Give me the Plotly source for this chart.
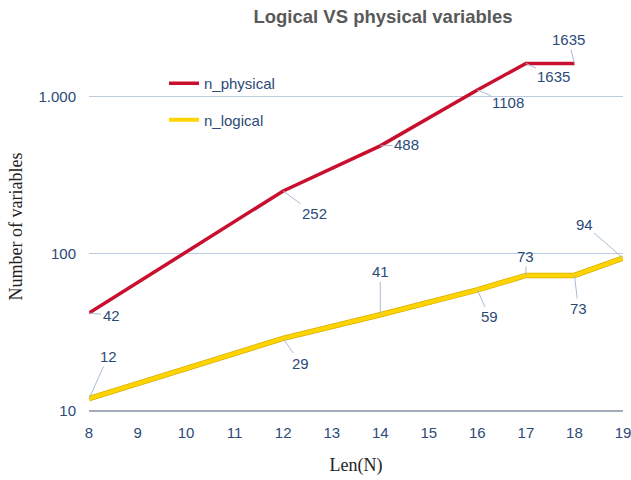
import math
import plotly.graph_objects as go

# ---- data ----
len_physical = [8, 12, 14, 16, 17, 18]
n_physical = [42, 252, 488, 1108, 1635, 1635]
len_logical = [8, 12, 14, 16, 17, 18, 19]
n_logical = [12, 29, 41, 59, 73, 73, 94]
x_ticks = list(range(8, 20))
y_ticks = [10, 100, 1000]
y_tick_text = ["10", "100", "1.000"]

# label offsets (pixels) for callouts
phys_offsets = [(22, 2), (31, 23), (26, -1), (31, 13), (28, 13), (-6, -24)]
log_offsets = [(19, -42), (17, 25), (0, -43), (12, 27), (0, -19), (4, 33), (-39, -34)]

RED = "#C8102E"
YELLOW = "#FFD400"
YELLOW_EDGE = "#D6AE00"
LABEL = "#2B4A78"
LEADER = "#A9BCD3"
SANS = "Liberation Sans, Arial"

fig = go.Figure()
fig.add_trace(go.Scatter(x=len_physical, y=n_physical, mode="lines", name="n_physical",
                         line=dict(color=RED, width=3.5), legendgroup="a"))
fig.add_trace(go.Scatter(x=len_logical, y=n_logical, mode="lines", showlegend=False,
                         line=dict(color=YELLOW_EDGE, width=5.5), hoverinfo="skip", legendgroup="b"))
fig.add_trace(go.Scatter(x=len_logical, y=n_logical, mode="lines", name="n_logical",
                         line=dict(color=YELLOW, width=4), legendgroup="b"))

for xs, ys, offs in [(len_physical, n_physical, phys_offsets), (len_logical, n_logical, log_offsets)]:
    for xv, yv, (ax, ay) in zip(xs, ys, offs):
        fig.add_annotation(x=xv, y=math.log10(yv), text=str(yv), showarrow=True, arrowhead=0,
                           arrowwidth=1, arrowcolor=LEADER, ax=ax, ay=ay, standoff=0,
                           font=dict(family=SANS, size=15, color=LABEL))

fig.update_layout(
    width=631, height=480,
    margin=dict(l=89, r=8, t=42, b=69),
    paper_bgcolor="white", plot_bgcolor="white",
    title=dict(text="<b>Logical VS physical variables</b>", x=383 / 631, xanchor="center",
               y=1 - 17 / 480, yanchor="middle", automargin=False,
               font=dict(family=SANS, size=18.5, color="#595959")),
    xaxis=dict(range=[8, 19], tickvals=x_ticks, showgrid=False, zeroline=False,
               showline=False, ticks="outside", ticklen=8, tickcolor="rgba(0,0,0,0)",
               automargin=False, ticklabeloverflow="allow",
               tickfont=dict(family=SANS, size=15, color=LABEL),
               title=dict(text="Len(N)", standoff=18,
                          font=dict(family="Liberation Serif, serif", size=18, color="#222222"))),
    yaxis=dict(type="log", range=[1, 3.35], tickvals=y_ticks, ticktext=y_tick_text,
               showgrid=True, gridcolor="#BCCCDF", gridwidth=1, zeroline=False,
               ticks="outside", ticklen=9, tickcolor="rgba(0,0,0,0)",
               showline=False, automargin=False,
               tickfont=dict(family=SANS, size=15, color=LABEL),
               title=dict(text="Number of variables", standoff=11,
                          font=dict(family="Liberation Serif, serif", size=18, color="#222222"))),
    legend=dict(x=(164 - 89) / 534, y=(411 - 67) / 369, xanchor="left", yanchor="top",
                bgcolor="rgba(0,0,0,0)", tracegroupgap=14,
                font=dict(family=SANS, size=15, color=LABEL)),
    showlegend=True,
)
# bottom axis line
fig.add_shape(type="line", xref="paper", yref="paper", x0=0, x1=1, y0=0, y1=0,
              line=dict(color="#A3ABB8", width=2), layer="below")

fig.write_html("out.html", config={"displayModeBar": False},
               post_script="document.body.style.margin='0';")
